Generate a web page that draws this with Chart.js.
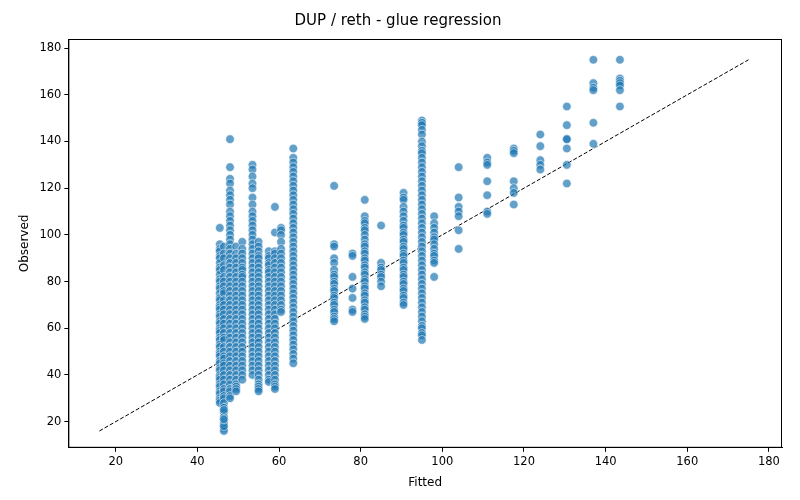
<!DOCTYPE html><html><head><script src="https://cdn.jsdelivr.net/npm/chart.js"></script>
<style>body{margin:0;background:#fff}#w{width:800px;height:500px}</style></head><body><div id="w"><canvas id="c"></canvas></div>
<script>
const fitted=[45.5,46.5,48,49.5,51,53.5,55,57.5,59,60.5,63.5,73.5,78,81,85,90.5,95,98,104,111,117.5,124,130.5,137,143.5];
const observed=[
[103,96,94,93,91,90,88,86,85,83,81,80,78,77,75,73,72,70,69,68,66,65,63,62,60,59,58,56,55,53,52,50,49,48,46,45,43,42,40,39,38,36,35,33,32,30,29,28],
[95,92,90,87,85,82,80,78,76,75,72,70,68,66,64,62,60,58,56,55,52,50,48,47,45,44,42,40,38,36,34,33,31,30,28,26,24,22,20,19,17,16,18,21,25],
[141,129,124,122,119,117,115,113,110,108,106,104,102,100,98,96,94,92,90,88,86,84,82,80,78,76,74,72,70,68,66,64,62,60,58,56,54,52,50,48,46,44,42,40,38,36,34,33,31,30],
[95,92,90,88,86,84,82,80,78,76,74,72,70,68,66,64,62,60,58,56,54,52,50,48,46,44,42,40,38,36,35,34,33],
[97,94,92,90,88,86,85,83,82,80,78,76,74,72,70,68,66,64,62,60,58,56,54,52,50,48,46,44,42,40,38],
[130,128,125,122,120,116,113,110,108,106,104,102,100,98,96,94,92,90,88,86,84,82,80,78,76,74,72,70,68,66,64,62,60,58,56,54,52,50,48,46,44,42,40],
[97,95,93,91,90,88,86,84,82,80,78,76,74,72,70,68,66,64,62,60,58,56,54,52,50,48,46,44,42,40,38,36,35,34,33],
[93,91,90,88,87,85,84,82,80,78,76,74,72,70,68,66,64,62,60,58,56,54,52,50,48,46,44,42,40,38,37],
[112,101,93,92,90,88,86,84,82,80,78,76,74,72,70,68,66,64,62,60,58,56,54,52,50,48,46,44,42,40,38,36,35,34],
[103,102,100,97,94,92,90,88,86,84,82,80,78,76,74,72,70,68,67],
[137,133,131,129,127,125,123,121,119,117,115,113,111,109,107,105,103,101,99,97,95,93,91,89,87,85,83,81,79,77,75,73,71,69,67,65,63,61,59,57,55,53,51,49,47,45],
[121,96,95,90,88,85,83,82,80,79,77,76,74,73,71,70,68,67,65,64,63],
[92,91,82,77,73,68,67],
[115,108,106,105,103,102,100,98,96,95,93,92,90,89,87,86,84,83,81,80,78,77,75,74,72,71,69,68,66,65,64],
[104,88,86,85,83,82,80,78],
[118,116,115,112,110,108,106,104,103,101,100,98,97,95,94,92,91,89,88,86,85,83,82,80,79,77,76,74,73,71,70],
[149,148,147,145,143,140,138,136,135,133,131,129,127,125,123,121,119,117,115,113,111,109,107,105,103,101,99,97,95,93,91,89,87,85,83,81,79,77,75,73,71,69,67,65,63,61,60,58,57,55],
[108,105,103,101,99,98,96,94,92,91,89,88,82],
[129,116,112,110,108,102,94],
[133,131,130,123,117,110,109],
[137,136,135,123,120,118,113],
[143,138,132,130,128],
[155,147,141,141,137,130,122],
[175,165,163,162,148,139],
[175,167,166,165,164,162,155]];
const refLine=[16,175];
const pts=[];fitted.forEach((f,i)=>observed[i].forEach(o=>pts.push({x:f,y:o})));
const box={id:'box',afterDraw(c){const a=c.chartArea,x=c.ctx;x.save();x.strokeStyle='#000';x.lineWidth=1;x.strokeRect(a.left+0.5,a.top+0.5,a.right-a.left-1,a.bottom-a.top-1);x.restore();}};
const tk={display:true,drawOnChartArea:false,drawTicks:true,tickLength:4,color:'#000'};
new Chart(document.getElementById('c'),{type:'scatter',plugins:[box],data:{datasets:[
{data:pts,backgroundColor:'rgba(31,119,180,0.7)',borderColor:'rgba(255,255,255,0.9)',borderWidth:0.6,pointRadius:4.3},
{type:'line',data:refLine.map(v=>({x:v,y:v})),borderColor:'#000',borderWidth:1,borderDash:[4,2],pointRadius:0,fill:false}]},
options:{animation:false,responsive:true,maintainAspectRatio:false,layout:{padding:{top:0,right:18,left:14,bottom:6}},
plugins:{legend:{display:false},tooltip:{enabled:false},title:{display:true,text:'DUP / reth - glue regression',color:'#000',font:{family:'DejaVu Sans',size:15,weight:'normal'},padding:{top:12,bottom:9}}},
scales:{x:{min:8.4,max:183.2,grid:tk,border:{color:'#000'},afterBuildTicks:a=>{a.ticks=[20,40,60,80,100,120,140,160,180].map(v=>({value:v}))},ticks:{color:'#000',font:{family:'DejaVu Sans',size:11.5}},title:{display:true,text:'Fitted',color:'#000',font:{family:'DejaVu Sans',size:12}}},
y:{min:8.8,max:183.9,grid:tk,border:{color:'#000'},afterBuildTicks:a=>{a.ticks=[20,40,60,80,100,120,140,160,180].map(v=>({value:v}))},ticks:{color:'#000',font:{family:'DejaVu Sans',size:11.5}},title:{display:true,text:'Observed',color:'#000',font:{family:'DejaVu Sans',size:12}}}}}});
</script></body></html>
